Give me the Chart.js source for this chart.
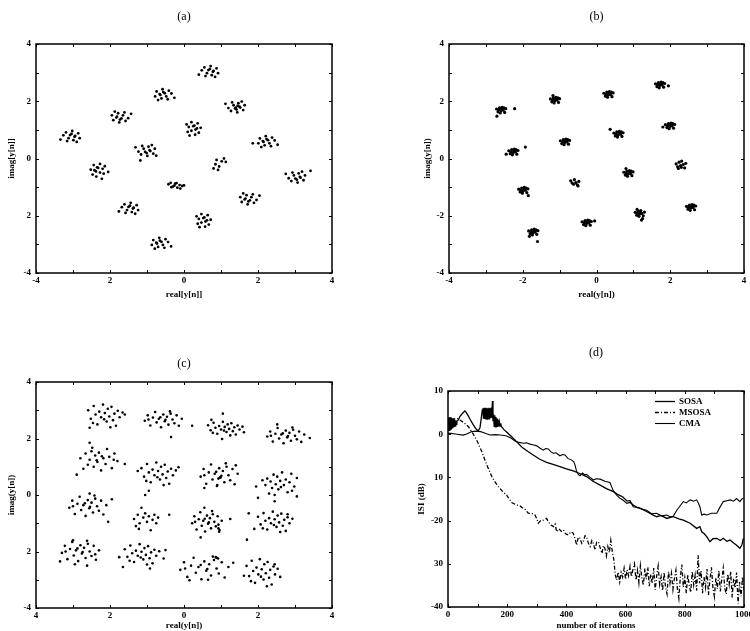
<!DOCTYPE html>
<html>
<head>
<meta charset="utf-8">
<script src="https://cdn.jsdelivr.net/npm/chart.js@4.4.1/dist/chart.umd.min.js"></script>
<style>
  body { margin: 0; background: #fff; width: 750px; height: 631px; position: relative; overflow: hidden; }
  canvas { position: absolute; }
</style>
</head>
<body>
<canvas id="chartA" width="375" height="300" style="left:0;top:0"></canvas>
<canvas id="chartB" width="375" height="300" style="left:375px;top:0"></canvas>
<canvas id="chartC" width="375" height="311" style="left:0;top:320px"></canvas>
<canvas id="chartD" width="375" height="311" style="left:375px;top:320px"></canvas>
<script>
// ---- data ----
// (a) constellation, one row per cluster
const aPoints = [
  [0.48,3.08],[0.55,3.18],[0.62,2.98],[0.70,3.13],[0.75,2.91],[0.80,3.06],[0.88,3.15],[0.92,2.98],[0.58,2.88],[0.72,3.23],[0.84,2.85],[0.40,2.93],[0.78,3.03],[0.66,3.09],
  [-0.34,2.27],[-0.41,2.37],[-0.48,2.17],[-0.56,2.32],[-0.61,2.10],[-0.66,2.25],[-0.74,2.34],[-0.78,2.17],[-0.44,2.07],[-0.58,2.42],[-0.70,2.04],[-0.26,2.12],[-0.64,2.22],[-0.52,2.28],
  [1.20,1.76],[1.27,1.66],[1.34,1.86],[1.42,1.71],[1.47,1.93],[1.52,1.78],[1.60,1.69],[1.64,1.86],[1.30,1.96],[1.44,1.61],[1.56,1.99],[1.12,1.91],[1.50,1.81],[1.38,1.75],[1.40,1.78],[1.45,1.84],
  [-1.51,1.41],[-1.58,1.31],[-1.65,1.51],[-1.73,1.36],[-1.78,1.58],[-1.83,1.43],[-1.91,1.34],[-1.95,1.51],[-1.61,1.61],[-1.75,1.26],[-1.87,1.64],[-1.43,1.56],[-1.81,1.46],[-1.69,1.40],
  [0.30,0.83],[0.40,0.90],[0.20,0.97],[0.35,1.05],[0.13,1.10],[0.28,1.15],[0.37,1.23],[0.20,1.27],[0.10,0.93],[0.45,1.07],[0.07,1.19],[0.15,0.80],[0.25,1.13],[0.31,1.01],
  [-3.26,0.81],[-3.19,0.91],[-3.12,0.71],[-3.04,0.86],[-2.99,0.64],[-2.94,0.79],[-2.86,0.88],[-2.82,0.71],[-3.16,0.61],[-3.02,0.96],[-2.90,0.58],[-3.34,0.66],[-2.96,0.76],[-3.08,0.82],
  [2.45,0.63],[2.38,0.73],[2.31,0.53],[2.23,0.68],[2.18,0.46],[2.13,0.61],[2.05,0.70],[2.01,0.53],[2.35,0.43],[2.21,0.78],[2.09,0.40],[2.53,0.48],[2.15,0.58],[2.27,0.64],[1.86,0.53],
  [-1.23,0.24],[-1.16,0.14],[-1.09,0.34],[-1.01,0.19],[-0.96,0.41],[-0.91,0.26],[-0.83,0.17],[-0.79,0.34],[-1.13,0.44],[-0.99,0.09],[-0.87,0.47],[-1.31,0.39],[-0.93,0.29],[-1.05,0.23],[-0.75,0.10],[-1.18,-0.07],
  [0.80,-0.35],[0.85,-0.20],[0.88,-0.05],[0.95,-0.28],[1.02,-0.10],[1.08,0.00],[1.13,-0.12],[0.92,-0.40],
  [-2.37,-0.63],[-2.47,-0.56],[-2.27,-0.49],[-2.42,-0.41],[-2.20,-0.36],[-2.35,-0.31],[-2.44,-0.23],[-2.27,-0.19],[-2.17,-0.53],[-2.52,-0.39],[-2.14,-0.27],[-2.22,-0.71],[-2.32,-0.33],[-2.38,-0.45],[-2.05,-0.47],
  [2.83,-0.69],[2.90,-0.79],[2.97,-0.59],[3.05,-0.74],[3.10,-0.52],[3.15,-0.67],[3.23,-0.76],[3.27,-0.59],[2.93,-0.49],[3.07,-0.84],[3.19,-0.46],[2.75,-0.54],[3.13,-0.64],[3.01,-0.70],[3.42,-0.43],
  [-0.42,-0.90],[-0.36,-0.85],[-0.30,-0.98],[-0.24,-0.88],[-0.18,-1.02],[-0.12,-0.93],[-0.05,-0.96],[-0.34,-1.00],[-0.26,-0.95],[-0.20,-0.86],[-0.10,-1.05],[0.00,-0.94],
  [1.96,-1.45],[1.89,-1.55],[1.82,-1.35],[1.74,-1.50],[1.69,-1.28],[1.64,-1.43],[1.56,-1.52],[1.52,-1.35],[1.86,-1.25],[1.72,-1.60],[1.60,-1.22],[2.04,-1.30],[1.66,-1.40],[1.78,-1.46],
  [-1.68,-1.70],[-1.61,-1.60],[-1.54,-1.80],[-1.46,-1.65],[-1.41,-1.87],[-1.36,-1.72],[-1.28,-1.63],[-1.24,-1.80],[-1.58,-1.90],[-1.44,-1.55],[-1.32,-1.93],[-1.76,-1.85],[-1.38,-1.75],[-1.50,-1.69],
  [0.57,-2.38],[0.67,-2.31],[0.47,-2.24],[0.62,-2.16],[0.40,-2.11],[0.55,-2.06],[0.64,-1.98],[0.47,-1.94],[0.37,-2.28],[0.72,-2.14],[0.34,-2.02],[0.42,-2.40],[0.52,-2.08],[0.58,-2.20],
  [-0.43,-2.92],[-0.50,-2.82],[-0.57,-3.02],[-0.65,-2.87],[-0.70,-3.09],[-0.75,-2.94],[-0.83,-2.85],[-0.87,-3.02],[-0.53,-3.12],[-0.67,-2.77],[-0.79,-3.15],[-0.35,-3.07],[-0.73,-2.97],[-0.61,-2.91]
];

// (b) constellation
const bPoints = [
  [-2.71,1.73],[-2.67,1.63],[-2.63,1.77],[-2.59,1.67],[-2.56,1.79],[-2.53,1.69],[-2.49,1.61],[-2.46,1.74],[-2.65,1.69],[-2.57,1.73],[-2.51,1.77],[-2.61,1.59],[-2.22,1.74],[-2.70,1.48],
  [-1.25,2.08],[-1.21,1.98],[-1.17,2.12],[-1.13,2.02],[-1.10,2.14],[-1.07,2.04],[-1.03,1.96],[-1.00,2.09],[-1.19,2.04],[-1.11,2.08],[-1.05,2.12],[-1.15,1.94],[-1.18,2.20],
  [0.20,2.28],[0.24,2.18],[0.28,2.32],[0.32,2.22],[0.35,2.34],[0.38,2.24],[0.42,2.16],[0.45,2.29],[0.26,2.24],[0.34,2.28],[0.40,2.32],[0.30,2.14],
  [1.60,2.61],[1.64,2.51],[1.68,2.65],[1.72,2.55],[1.75,2.67],[1.78,2.57],[1.82,2.49],[1.85,2.62],[1.66,2.57],[1.74,2.61],[1.80,2.65],[1.70,2.47],[1.95,2.54],
  [-2.38,0.27],[-2.34,0.17],[-2.30,0.31],[-2.26,0.21],[-2.23,0.33],[-2.20,0.23],[-2.16,0.15],[-2.13,0.28],[-2.32,0.23],[-2.24,0.27],[-2.18,0.31],[-2.28,0.13],[-1.93,0.40],[-2.45,0.15],
  [-0.98,0.62],[-0.94,0.52],[-0.90,0.66],[-0.86,0.56],[-0.83,0.68],[-0.80,0.58],[-0.76,0.50],[-0.73,0.63],[-0.92,0.58],[-0.84,0.62],[-0.78,0.66],[-0.88,0.48],
  [0.47,0.89],[0.51,0.79],[0.55,0.93],[0.59,0.83],[0.62,0.95],[0.65,0.85],[0.69,0.77],[0.72,0.90],[0.53,0.85],[0.61,0.89],[0.67,0.93],[0.57,0.75],[0.37,1.02],
  [1.87,1.18],[1.91,1.08],[1.95,1.22],[1.99,1.12],[2.02,1.24],[2.05,1.14],[2.09,1.06],[2.12,1.19],[1.93,1.14],[2.01,1.18],[2.07,1.22],[1.97,1.04],[1.80,1.10],
  [-2.11,-1.07],[-2.07,-1.17],[-2.03,-1.03],[-1.99,-1.13],[-1.96,-1.01],[-1.93,-1.11],[-1.89,-1.19],[-1.86,-1.06],[-2.05,-1.11],[-1.97,-1.07],[-1.91,-1.03],[-2.01,-1.21],[-1.85,-1.30],
  [-0.70,-0.78],[-0.66,-0.86],[-0.60,-0.74],[-0.56,-0.84],[-0.52,-0.92],[-0.48,-0.80],[-0.62,-0.90],[-0.50,-0.96],
  [0.74,-0.48],[0.78,-0.58],[0.82,-0.44],[0.86,-0.54],[0.89,-0.42],[0.92,-0.52],[0.96,-0.60],[0.99,-0.47],[0.80,-0.52],[0.88,-0.48],[0.94,-0.44],[0.84,-0.62],[0.80,-0.35],
  [2.16,-0.19],[2.20,-0.29],[2.24,-0.13],[2.28,-0.25],[2.31,-0.09],[2.35,-0.21],[2.39,-0.33],[2.42,-0.17],[2.22,-0.35],[2.30,-0.31],
  [-1.84,-2.53],[-1.80,-2.63],[-1.76,-2.49],[-1.72,-2.59],[-1.69,-2.47],[-1.66,-2.57],[-1.62,-2.65],[-1.59,-2.52],[-1.78,-2.57],[-1.70,-2.53],[-1.64,-2.49],[-1.74,-2.67],[-1.60,-2.90],[-1.82,-2.72],
  [-0.39,-2.21],[-0.35,-2.31],[-0.31,-2.17],[-0.27,-2.27],[-0.24,-2.15],[-0.21,-2.25],[-0.17,-2.33],[-0.14,-2.20],[-0.33,-2.25],[-0.25,-2.21],[-0.19,-2.17],[-0.29,-2.35],[-0.05,-2.18],
  [1.05,-1.88],[1.09,-1.98],[1.13,-1.84],[1.17,-1.94],[1.20,-1.82],[1.23,-1.92],[1.27,-2.00],[1.30,-1.87],[1.11,-1.92],[1.19,-1.88],[1.25,-2.10],[1.15,-2.02],[1.10,-1.78],[1.22,-2.15],
  [2.44,-1.67],[2.48,-1.77],[2.52,-1.63],[2.56,-1.73],[2.59,-1.61],[2.62,-1.71],[2.66,-1.79],[2.69,-1.66],[2.50,-1.71],[2.58,-1.67],[2.64,-1.63],[2.54,-1.81]
];

// (c) constellation
const cPoints = [
  [-2.59,3.00],[-2.52,2.70],[-2.44,3.15],[-2.39,2.85],[-2.34,2.50],[-2.29,2.95],[-2.24,2.75],[-2.19,3.20],[-2.14,2.90],[-2.09,2.60],[-2.06,3.05],[-2.02,2.78],[-1.96,3.12],[-1.92,2.65],[-1.88,2.88],[-1.84,2.45],[-1.79,2.98],[-1.74,2.75],[-1.66,2.92],[-2.46,2.55],[-1.99,2.40],[-2.16,2.68],[-1.60,2.85],[-2.55,2.38],
  [-1.06,2.63],[-0.98,2.82],[-0.91,2.46],[-0.84,2.74],[-0.78,2.94],[-0.74,2.57],[-0.68,2.70],[-0.62,2.40],[-0.56,2.85],[-0.52,2.61],[-0.46,2.77],[-0.42,2.49],[-0.36,2.88],[-0.31,2.67],[-0.26,2.54],[-0.20,2.82],[-0.14,2.45],[-0.06,2.70],[-0.64,2.75],[-0.38,2.96],[-0.96,2.67],[-0.50,2.66],[-0.35,2.05],[0.22,2.45],
  [0.65,2.47],[0.72,2.29],[0.80,2.56],[0.85,2.38],[0.90,2.17],[0.95,2.44],[1.00,2.32],[1.05,2.59],[1.10,2.41],[1.15,2.23],[1.18,2.50],[1.22,2.34],[1.28,2.54],[1.32,2.26],[1.36,2.40],[1.40,2.14],[1.45,2.46],[1.50,2.32],[1.58,2.42],[0.78,2.20],[1.25,2.11],[1.08,2.28],[1.05,2.88],[0.74,2.66],[1.62,2.22],[1.03,1.98],
  [2.25,2.07],[2.33,2.25],[2.40,1.89],[2.47,2.17],[2.53,2.37],[2.57,2.00],[2.63,2.14],[2.69,1.83],[2.75,2.28],[2.79,2.04],[2.85,2.20],[2.89,1.92],[2.95,2.31],[3.00,2.10],[3.05,1.97],[3.11,2.25],[3.17,1.88],[3.25,2.14],[2.67,2.18],[2.93,2.39],[2.35,2.10],[2.81,2.09],[3.40,2.02],[2.52,2.50],
  [-1.80,1.20],[-1.88,1.47],[-1.95,0.95],[-2.02,1.35],[-2.08,1.63],[-2.12,1.10],[-2.18,1.30],[-2.24,0.87],[-2.30,1.50],[-2.34,1.17],[-2.40,1.40],[-2.44,1.00],[-2.50,1.55],[-2.55,1.25],[-2.60,1.07],[-2.66,1.47],[-2.72,0.93],[-2.80,1.30],[-2.22,1.37],[-2.48,1.67],[-1.90,1.25],[-2.36,1.23],[-1.60,1.10],[-2.90,0.72],[-2.55,1.85],
  [-1.15,0.95],[-1.08,0.65],[-1.00,1.10],[-0.95,0.80],[-0.90,0.45],[-0.85,0.90],[-0.80,0.70],[-0.75,1.15],[-0.70,0.85],[-0.65,0.55],[-0.62,1.00],[-0.58,0.73],[-0.52,1.07],[-0.48,0.60],[-0.44,0.83],[-0.40,0.40],[-0.35,0.93],[-0.30,0.70],[-0.22,0.87],[-1.02,0.50],[-0.55,0.35],[-0.72,0.63],[-1.05,0.00],[-1.25,0.85],[-0.15,0.98],[-0.95,0.15],
  [0.45,0.65],[0.53,0.92],[0.60,0.40],[0.67,0.80],[0.73,1.08],[0.77,0.55],[0.83,0.75],[0.89,0.32],[0.95,0.95],[0.99,0.62],[1.05,0.85],[1.09,0.45],[1.15,1.00],[1.20,0.70],[1.25,0.52],[1.31,0.92],[1.37,0.38],[1.45,0.75],[0.87,0.82],[1.13,1.12],[0.55,0.70],[1.01,0.68],[0.93,0.58],[0.97,0.62],[0.90,0.35],[1.40,1.05],[0.55,0.25],
  [3.05,0.60],[2.98,0.30],[2.90,0.75],[2.85,0.45],[2.80,0.10],[2.75,0.55],[2.70,0.35],[2.65,0.80],[2.60,0.50],[2.55,0.20],[2.52,0.65],[2.48,0.38],[2.42,0.72],[2.38,0.25],[2.34,0.48],[2.30,0.05],[2.25,0.58],[2.20,0.35],[2.12,0.52],[2.92,0.15],[2.45,0.00],[2.62,0.28],[1.95,0.30],[2.00,-0.10],[3.05,-0.05],[2.45,-0.22],
  [-3.10,-0.45],[-3.02,-0.20],[-2.95,-0.67],[-2.88,-0.31],[-2.82,-0.06],[-2.78,-0.53],[-2.72,-0.36],[-2.66,-0.74],[-2.60,-0.18],[-2.56,-0.47],[-2.50,-0.27],[-2.46,-0.62],[-2.40,-0.13],[-2.35,-0.40],[-2.30,-0.56],[-2.24,-0.20],[-2.18,-0.69],[-2.10,-0.36],[-2.68,-0.29],[-2.42,-0.02],[-3.00,-0.40],[-2.54,-0.42],[-2.05,-0.95],[-1.95,-0.15],[-2.55,0.05],
  [-1.35,-0.85],[-1.30,-1.10],[-1.25,-0.70],[-1.20,-1.00],[-1.15,-0.45],[-1.10,-0.80],[-1.05,-0.65],[-1.00,-0.95],[-0.95,-0.75],[-0.90,-1.25],[-0.85,-0.88],[-0.80,-0.70],[-0.75,-1.00],[-0.70,-0.80],[-1.22,-1.20],[-0.40,-0.70],
  [0.22,-1.00],[0.28,-0.75],[0.34,-1.22],[0.40,-0.86],[0.44,-0.61],[0.48,-1.09],[0.52,-0.91],[0.57,-1.29],[0.62,-0.73],[0.65,-1.02],[0.70,-0.82],[0.73,-1.18],[0.78,-0.68],[0.82,-0.95],[0.86,-1.11],[0.91,-0.75],[0.96,-1.24],[1.02,-0.91],[0.56,-0.84],[0.76,-0.57],[0.30,-0.95],[0.67,-0.97],[0.93,-1.05],[0.93,-1.18],[0.95,-1.30],[1.25,-0.85],[0.45,-1.50],[0.55,-0.45],
  [2.00,-0.77],[2.07,-1.04],[2.15,-0.64],[2.20,-0.91],[2.25,-1.22],[2.30,-0.82],[2.35,-1.00],[2.40,-0.59],[2.45,-0.86],[2.50,-1.13],[2.53,-0.73],[2.57,-0.97],[2.63,-0.66],[2.67,-1.09],[2.71,-0.88],[2.75,-1.27],[2.80,-0.79],[2.85,-1.00],[2.93,-0.84],[2.13,-1.18],[2.60,-1.31],[2.43,-1.06],[1.75,-0.65],[1.70,-1.58],[1.90,-1.20],[2.80,-0.68],
  [-3.30,-2.05],[-3.22,-1.80],[-3.15,-2.27],[-3.08,-1.91],[-3.02,-1.66],[-2.98,-2.14],[-2.92,-1.96],[-2.86,-2.34],[-2.80,-1.78],[-2.76,-2.07],[-2.70,-1.87],[-2.66,-2.23],[-2.60,-1.73],[-2.55,-2.00],[-2.50,-2.16],[-2.44,-1.80],[-2.38,-2.29],[-2.30,-1.96],[-2.88,-1.89],[-2.62,-1.62],[-3.20,-2.00],[-2.74,-2.02],[-3.35,-2.35],[-2.62,-2.50],[-2.95,-2.45],[-3.00,-1.60],[-2.40,-2.10],
  [-1.60,-1.92],[-1.53,-2.19],[-1.45,-1.79],[-1.40,-2.06],[-1.35,-2.37],[-1.30,-1.97],[-1.25,-2.15],[-1.20,-1.74],[-1.15,-2.01],[-1.10,-2.28],[-1.07,-1.88],[-1.03,-2.12],[-0.97,-1.81],[-0.93,-2.24],[-0.89,-2.03],[-0.85,-2.42],[-0.80,-1.94],[-0.75,-2.15],[-0.67,-1.99],[-1.47,-2.33],[-1.00,-2.46],[-1.17,-2.21],[-1.75,-2.20],[-1.65,-2.55],[-0.50,-1.95],[-0.55,-2.25],[-0.92,-2.60],
  [-0.10,-2.65],[0.00,-2.38],[0.09,-2.90],[0.19,-2.50],[0.26,-2.22],[0.32,-2.75],[0.39,-2.55],[0.47,-2.98],[0.55,-2.35],[0.60,-2.68],[0.68,-2.45],[0.73,-2.85],[0.81,-2.30],[0.88,-2.60],[0.94,-2.78],[1.02,-2.38],[1.10,-2.92],[1.20,-2.55],[0.45,-2.48],[0.78,-2.18],[0.03,-2.60],[0.63,-2.62],[0.88,-2.22],[0.92,-2.25],[0.86,-2.20],[1.33,-2.40],[0.15,-3.02],[0.65,-3.00],
  [1.69,-2.51],[1.76,-2.87],[1.83,-2.33],[1.87,-2.69],[1.92,-3.11],[1.96,-2.57],[2.01,-2.81],[2.05,-2.27],[2.10,-2.63],[2.15,-2.99],[2.17,-2.45],[2.21,-2.77],[2.26,-2.37],[2.30,-2.93],[2.33,-2.65],[2.37,-3.17],[2.42,-2.53],[2.46,-2.81],[2.53,-2.61],[1.81,-3.05],[2.24,-3.23],[2.08,-2.89],[2.60,-2.90],[1.62,-2.86],[2.45,-2.45]
];

// tick values and the labels as printed
const iqTicks = [-4, -2, 0, 2, 4];
const aXTickText = ['-4', '2', '0', '2', '4'];
const aYTickText = ['-4', '2', '0', '2', '4'];
const bXTickText = ['-4', '-2', '0', '2', '4'];
const bYTickText = ['-4', '-2', '0', '2', '4'];
const cXTickText = ['4', '2', '0', '2', '4'];
const cYTickText = ['-4', '2', '0', '2', '4'];

// (d) ISI curves
const sosaIter = [0,2,4,6,8,10,12,14,16,18,20,22,24,26,28,30,35,40,45,50,57,62,68,75,85,95,102,108,112,116,
  118,120,122,124,126,128,130,132,134,136,138,140,142,144,146,148,150,152,154,156,158,160,162,164,166,168,170,172,174,176,178,180,
  190,200,215,230,250,270,288,310,333,355,378,400,423,445,468,490,514,535,559,575,592,605,615,626,645,671,690,705,720,739,761,
  780,795,818,840,851,857,865,874,885,895,908,920,930,942,953,965,975,986,993,998];
const sosaIsi = [1.0,3.8,0.9,4.0,1.1,3.9,1.2,3.7,1.4,3.6,1.6,3.4,1.9,3.2,2.3,3.0,3.3,4.1,4.5,4.9,5.4,5.0,4.3,3.4,2.2,1.2,0.8,1.5,3.5,5.6,
  6.0,3.6,6.1,3.5,6.0,3.4,6.1,3.5,6.0,3.6,6.1,3.4,6.0,3.7,6.2,3.8,7.7,3.0,4.6,1.8,4.4,1.7,4.0,1.6,3.6,1.7,3.2,1.8,2.8,1.9,2.5,1.8,
  1.0,0.4,-0.6,-1.6,-3.0,-4.0,-4.8,-5.8,-6.5,-7.0,-7.5,-8.0,-8.5,-9.1,-9.8,-10.9,-11.8,-12.6,-13.3,-14.0,-14.6,-15.5,-15.4,-16.8,-17.0,-17.9,-18.6,-19.1,-18.8,-19.5,-19.1,
  -19.6,-19.9,-20.6,-21.8,-21.4,-22.6,-23.0,-23.7,-24.9,-24.2,-24.1,-24.6,-24.1,-24.8,-24.5,-25.2,-25.7,-26.4,-25.6,-24.1];

const msosaIter = [0,5,10,15,20,29,40,52,60,69,80,91,102,114,122,131,140,148,158,170,185,198,209,215,232,243,254,262,271,285,294,300,305,313,322,333,340,348,356,362,367,375,383,390,398,407,415,423,430,435,440,446,452,457,463,468,474,480,486,491,497,502,508,
  515,520,525,530,535,540,545,550,555,560,565,570,575,580,585,590,595,600,605,610,615,620,625,630,635,640,645,650,655,660,665,670,675,680,685,690,695,700,705,710,715,720,725,730,735,740,745,750,755,760,765,770,775,780,785,790,795,800,805,810,815,820,825,830,835,840,845,850,855,860,865,870,875,880,885,890,895,900,905,910,915,920,925,930,935,940,945,950,955,960,965,970,975,980,985,990,995,1000];
const msosaIsi = [3.2,2.8,3.6,3.0,3.5,3.7,3.3,2.75,2.3,1.75,0.6,-0.6,-2.1,-4.0,-5.5,-7.1,-8.5,-9.8,-11.0,-12.1,-13.3,-14.1,-15.2,-15.8,-16.4,-16.6,-17.2,-17.5,-18.3,-18.4,-18.7,-19.6,-20.6,-20.0,-19.9,-19.5,-20.4,-21.0,-21.4,-20.8,-22.6,-21.9,-22.5,-22.2,-23.1,-23.3,-22.6,-22.9,-24.4,-25.7,-23.8,-24.1,-25.3,-24.9,-23.5,-23.7,-25.2,-26.0,-24.6,-25.3,-26.8,-25.0,-24.9,
  -26.5,-27.6,-25.8,-26.4,-28.2,-26.0,-27.4,-24.6,-27.2,-28.9,-32.5,-33.8,-31.9,-34.2,-32.0,-33.1,-31.0,-33.6,-31.4,-32.8,-30.6,-33.0,-31.2,-30.0,-33.8,-31.5,-34.4,-30.4,-33.2,-35.0,-31.1,-33.6,-30.8,-35.2,-32.4,-34.6,-31.0,-36.0,-32.8,-30.5,-34.8,-33.0,-36.2,-32.0,-35.5,-37.0,-31.8,-34.5,-32.2,-36.0,-33.4,-31.5,-35.8,-38.0,-33.0,-30.2,-35.4,-33.2,-36.8,-32.5,-35.0,-36.6,-31.8,-34.9,-32.6,-36.2,-28.0,-34.5,-31.6,-36.8,-33.0,-35.4,-31.2,-37.2,-33.6,-30.8,-35.6,-37.6,-33.2,-35.8,-31.6,-36.4,-33.5,-31.0,-35.7,-37.0,-32.4,-34.8,-31.8,-37.8,-33.4,-35.6,-32.0,-39.2,-34.2,-37.5,-33.0,-36.0];

const cmaIter = [0,10,20,30,40,52,65,80,97,110,119,130,142,160,176,190,198,207,215,226,240,255,265,277,290,300,310,322,330,339,348,356,365,378,387,395,405,418,425,429,434,440,446,455,462,468,480,491,500,514,530,547,553,559,570,580,592,604,615,626,640,655,671,688,705,720,739,750,761,
  773,785,795,805,818,830,840,846,851,857,865,874,890,908,918,930,942,953,965,975,986,993,998];
const cmaIsi = [0.2,0.2,0.1,0.0,-0.1,-0.2,0.1,0.6,0.7,0.6,0.4,0.1,-0.2,-0.1,-0.2,-0.3,-0.4,-0.7,-1.0,-1.6,-1.9,-2.1,-2.0,-2.3,-2.5,-2.7,-3.2,-3.7,-3.3,-3.4,-4.1,-4.4,-4.3,-5.0,-4.7,-4.8,-5.6,-6.0,-6.4,-7.1,-8.5,-9.3,-9.6,-9.0,-9.4,-9.3,-10.0,-10.6,-10.3,-10.4,-10.9,-11.2,-12.2,-13.2,-14.1,-14.8,-15.3,-16.0,-15.8,-16.4,-17.0,-17.3,-17.6,-18.4,-18.3,-18.9,-18.7,-19.1,-19.0,
  -17.6,-16.5,-15.6,-15.9,-15.2,-15.5,-15.2,-16.0,-16.8,-18.7,-18.5,-18.7,-18.3,-18.3,-17.0,-15.6,-15.4,-15.2,-15.5,-14.9,-15.6,-15.0,-14.8];

const dXTicks = [0, 200, 400, 600, 800, 1000];
const dXTickText = ['0', '200', '400', '600', '800', '1000'];
const dYTicks = [-40, -30, -20, -10, 0, 10];
const dYTickText = ['-40', '30', '-20', '10', '0', '10'];

// ---- drawing ----
const serif = '"Liberation Serif", "DejaVu Serif", serif';

// box round the plot with small inward tick marks on all four sides
const frameTicks = {
  id: 'frameTicks',
  afterDraw(chart, args, opts) {
    const { ctx, chartArea: a } = chart;
    const x = chart.scales.x, y = chart.scales.y;
    ctx.save();
    ctx.strokeStyle = '#000';
    ctx.lineWidth = 1.5;
    ctx.strokeRect(a.left, a.top, a.right - a.left, a.bottom - a.top);
    ctx.lineWidth = 1;
    ctx.beginPath();
    for (let v = x.min; v <= x.max + 1e-9; v += opts.xStep) {
      const px = Math.round(x.getPixelForValue(v)) + 0.5;
      ctx.moveTo(px, a.bottom); ctx.lineTo(px, a.bottom - opts.len);
      ctx.moveTo(px, a.top); ctx.lineTo(px, a.top + opts.len);
    }
    for (let v = y.min; v <= y.max + 1e-9; v += opts.yStep) {
      const py = Math.round(y.getPixelForValue(v)) + 0.5;
      ctx.moveTo(a.left, py); ctx.lineTo(a.left + opts.len, py);
      ctx.moveTo(a.right, py); ctx.lineTo(a.right - opts.len, py);
    }
    ctx.stroke();
    ctx.restore();
  }
};

// small legend inside the plot of (d)
const lineLegend = {
  id: 'lineLegend',
  afterDraw(chart, args, opts) {
    const ctx = chart.ctx;
    chart.data.datasets.forEach((ds, i) => {
      const yy = opts.y + i * opts.gap + 0.5;
      ctx.save();
      ctx.strokeStyle = ds.borderColor;
      ctx.lineWidth = ds.borderWidth;
      ctx.setLineDash(ds.borderDash || []);
      ctx.beginPath();
      ctx.moveTo(opts.x, yy);
      ctx.lineTo(opts.x + opts.len, yy);
      ctx.stroke();
      ctx.setLineDash([]);
      ctx.fillStyle = '#000';
      ctx.font = 'bold 9px ' + serif;
      ctx.textBaseline = 'middle';
      ctx.fillText(ds.label, opts.x + opts.len + 4, yy);
      ctx.restore();
    });
  }
};

function baseOptions(g) {
  return {
    responsive: false,
    animation: false,
    events: [],
    layout: { padding: { left: g.padL, right: g.padR, top: 0, bottom: 0 } },
    plugins: {
      legend: { display: false },
      tooltip: { enabled: false },
      title: {
        display: true, text: g.title, fullSize: false, color: '#000',
        font: { family: serif, size: 12, weight: 'normal' },
        padding: { top: g.titleTop, bottom: g.titleBottom }
      },
      frameTicks: { xStep: g.xMinor, yStep: g.yMinor, len: 3 }
    },
    scales: {
      x: {
        type: 'linear', min: g.xMin, max: g.xMax,
        grid: { display: false, drawTicks: false }, border: { display: false },
        afterBuildTicks: s => { s.ticks = g.xTicks.map(v => ({ value: v })); },
        afterFit: s => { s.height = g.xH; s.paddingLeft = 0; s.paddingRight = 0; },
        ticks: {
          color: '#000', padding: g.xTickPad, maxRotation: 0, autoSkip: false,
          font: { family: serif, size: 9, weight: 'bold' },
          callback: v => g.xText[g.xTicks.indexOf(v)]
        },
        title: {
          display: true, text: g.xTitle, color: '#000',
          font: { family: serif, size: 9, weight: 'bold' },
          padding: { top: g.xTitlePad, bottom: 0 }
        }
      },
      y: {
        type: 'linear', min: g.yMin, max: g.yMax,
        grid: { display: false, drawTicks: false }, border: { display: false },
        afterBuildTicks: s => { s.ticks = g.yTicks.map(v => ({ value: v })); },
        afterFit: s => { s.width = g.yW; s.paddingTop = 0; s.paddingBottom = 0; },
        ticks: {
          color: '#000', padding: 5, autoSkip: false,
          font: { family: serif, size: 9, weight: 'bold' },
          callback: v => g.yText[g.yTicks.indexOf(v)]
        },
        title: {
          display: true, text: g.yTitle, color: '#000',
          font: { family: serif, size: 9, weight: 'bold' },
          padding: { top: g.yTitlePad, bottom: 0 }
        }
      }
    }
  };
}

function makeScatter(id, pts, g) {
  new Chart(document.getElementById(id), {
    type: 'scatter',
    data: {
      datasets: [{
        data: pts.map(p => ({ x: p[0], y: p[1] })),
        pointRadius: g.r, pointBackgroundColor: '#000', pointBorderWidth: 0
      }]
    },
    options: baseOptions(g),
    plugins: [frameTicks]
  });
}

const iqAxes = { xMin: -4, xMax: 4, yMin: -4, yMax: 4, xTicks: iqTicks, yTicks: iqTicks, xMinor: 1, yMinor: 1 };

makeScatter('chartA', aPoints, Object.assign({}, iqAxes, {
  title: '(a)', xText: aXTickText, yText: aYTickText, xTitle: 'real[y[n]]', yTitle: 'imag[y[n]]',
  padL: 0, padR: 43, yW: 36, xH: 27, titleTop: 9.5, titleBottom: 20.1, yTitlePad: 6.6, xTitlePad: 4.6, xTickPad: 2, r: 1.4
}));

makeScatter('chartB', bPoints, Object.assign({}, iqAxes, {
  title: '(b)', xText: bXTickText, yText: bYTickText, xTitle: 'real(y[n])', yTitle: 'imag(y[n])',
  padL: 0, padR: 6, yW: 74, xH: 27, titleTop: 9.5, titleBottom: 20.1, yTitlePad: 47.6, xTitlePad: 4.6, xTickPad: 2, r: 1.6
}));

makeScatter('chartC', cPoints, Object.assign({}, iqAxes, {
  title: '(c)', xText: cXTickText, yText: cYTickText, xTitle: 'real(y[n])', yTitle: 'imag(y[n])',
  padL: 0, padR: 43, yW: 36, xH: 23, titleTop: 36.8, titleBottom: 10.8, yTitlePad: 6.6, xTitlePad: 1.6, xTickPad: 2, r: 1.3
}));

// (d) ISI against iterations
const dOpts = baseOptions({
  title: '(d)', xMin: 0, xMax: 1000, yMin: -40, yMax: 10,
  xTicks: dXTicks, yTicks: dYTicks, xText: dXTickText, yText: dYTickText, xMinor: 100, yMinor: 10,
  xTitle: 'number of iterations', yTitle: 'ISI (dB)',
  padL: 0, padR: 6, yW: 73, xH: 24, titleTop: 25.8, titleBottom: 30.8, yTitlePad: 41.6, xTitlePad: 0.6, xTickPad: 2
});
dOpts.plugins.lineLegend = { x: 280, y: 81, gap: 11, len: 20 };

function series(label, iters, vals, dash, width) {
  return {
    label: label,
    data: iters.map((it, i) => ({ x: it, y: vals[i] })),
    borderColor: '#000', borderWidth: width, borderDash: dash,
    pointRadius: 0, tension: 0, fill: false
  };
}

new Chart(document.getElementById('chartD'), {
  type: 'line',
  data: {
    datasets: [
      series('SOSA', sosaIter, sosaIsi, [], 1.3),
      series('MSOSA', msosaIter, msosaIsi, [4, 2, 1, 2], 1.3),
      series('CMA', cmaIter, cmaIsi, [], 1.1)
    ]
  },
  options: dOpts,
  plugins: [frameTicks, lineLegend]
});
</script>
</body>
</html>
